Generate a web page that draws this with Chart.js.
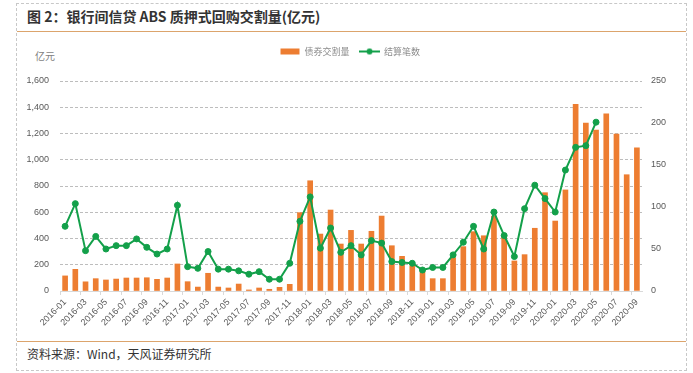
<!DOCTYPE html>
<html>
<head>
<meta charset="utf-8">
<script src="https://cdn.jsdelivr.net/npm/chart.js@4.4.1/dist/chart.umd.min.js"></script>
<style>
  body { margin: 0; width: 693px; height: 373px; position: relative; background: #fff; overflow: hidden;
         font-family: "Noto Sans CJK SC", "Noto Sans", sans-serif; }
  .frame { position: absolute; left: 16px; top: 3px; width: 671px; height: 368px; border: 1px dashed #c8c8c8; box-sizing: border-box; }
  .title { position: absolute; left: 27px; top: 6px; font-size: 14px; font-weight: bold; color: #333; white-space: nowrap; }
  .rule { position: absolute; left: 17px; width: 669px; height: 1px; background: #dca46c; }
  .unit { position: absolute; left: 35px; top: 48px; font-size: 10px; color: #7f7f7f; }
  .source { position: absolute; left: 27px; top: 345px; font-size: 12px; color: #333; white-space: nowrap; }
  #chart { position: absolute; left: 20px; top: 37px; }
</style>
</head>
<body>
<div class="frame"></div>
<div class="title">图 2：银行间信贷 ABS 质押式回购交割量(亿元)</div>
<div class="rule" style="top:31px"></div>
<div class="unit">亿元</div>
<canvas id="chart" width="660" height="298"></canvas>
<div class="rule" style="top:341px"></div>
<div class="source">资料来源：Wind，天风证券研究所</div>
<script>
const months = [
  '2016-01','2016-02','2016-03','2016-04','2016-05','2016-06','2016-07','2016-08','2016-09','2016-10','2016-11','2016-12',
  '2017-01','2017-02','2017-03','2017-04','2017-05','2017-06','2017-07','2017-08','2017-09','2017-10','2017-11','2017-12',
  '2018-01','2018-02','2018-03','2018-04','2018-05','2018-06','2018-07','2018-08','2018-09','2018-10','2018-11','2018-12',
  '2019-01','2019-02','2019-03','2019-04','2019-05','2019-06','2019-07','2019-08','2019-09','2019-10','2019-11','2019-12',
  '2020-01','2020-02','2020-03','2020-04','2020-05','2020-06','2020-07','2020-08','2020-09'
];

// 债券交割量 (亿元), left axis
const volume = [
  115, 165, 70, 94, 84, 91, 99, 99, 101, 89, 99, 206,
  71, 30, 135, 30, 23, 53, 8, 23, 13, 28, 51, 597,
  840, 434, 617, 358, 462, 358, 455, 571, 345, 264, 190, 150,
  94, 94, 254, 338, 452, 421, 571, 434, 229, 277, 478, 749,
  533, 770, 1423, 1280, 1227, 1349, 1196, 886, 1090
];

// 结算笔数, right axis
const deals = [
  77, 104, 48, 65, 50, 54, 54, 62, 52, 44, 50, 102,
  29, 27, 47, 26, 26, 24, 20, 23, 14, 14, 33, 83,
  112, 51, 75, 46, 54, 43, 60, 57, 35, 34, 33, 25,
  28, 28, 43, 58, 77, 50, 94, 66, 41, 98, 126, 110,
  94, 144, 171, 173, 201, null, null, null, null
];

const leftTicks = [0, 1600, 200];
const rightTicks = [0, 250, 50];

const orange = '#ED7D31';
const green = '#13A04A';

function legendIcon(kind) {
  const c = document.createElement('canvas');
  c.width = 21; c.height = 8;
  const g = c.getContext('2d');
  if (kind === 'bar') {
    g.fillStyle = orange;
    g.fillRect(1, 1, 19, 6);
  } else {
    g.strokeStyle = green; g.lineWidth = 2;
    g.beginPath(); g.moveTo(0, 4); g.lineTo(21, 4); g.stroke();
    g.fillStyle = green;
    g.beginPath(); g.arc(10.5, 4, 3, 0, Math.PI * 2); g.fill();
  }
  return c;
}

// extra gap under the legend
const legendGap = {
  id: 'legendGap',
  beforeUpdate(chart) {
    const lg = chart.legend;
    if (lg && !lg._gapped) {
      const fit = lg.fit;
      lg.fit = function () { fit.call(this); this.height += 15; };
      lg._gapped = true;
    }
  }
};

new Chart(document.getElementById('chart'), {
  data: {
    labels: months,
    datasets: [
      {
        type: 'bar', label: '债券交割量', data: volume, yAxisID: 'y',
        backgroundColor: orange, barThickness: 5, order: 2
      },
      {
        type: 'line', label: '结算笔数', data: deals, yAxisID: 'y1',
        borderColor: green, backgroundColor: green, borderWidth: 2,
        pointRadius: 3, pointBorderWidth: 1, tension: 0, spanGaps: false, order: 1
      }
    ]
  },
  options: {
    responsive: false,
    animation: false,
    devicePixelRatio: 1,
    layout: { padding: 0 },
    plugins: {
      tooltip: { enabled: false },
      legend: {
        position: 'top',
        labels: {
          usePointStyle: true,
          pointStyleWidth: 20,
          padding: 10,
          color: '#8c8c8c',
          font: { size: 9, family: '"Noto Sans CJK SC", sans-serif' },
          generateLabels: () => [
            { text: '债券交割量', pointStyle: legendIcon('bar'), fontColor: '#8c8c8c', datasetIndex: 0, lineWidth: 0, strokeStyle: 'transparent', fillStyle: orange },
            { text: '结算笔数', pointStyle: legendIcon('line'), fontColor: '#8c8c8c', datasetIndex: 1, lineWidth: 0, strokeStyle: 'transparent', fillStyle: green }
          ]
        }
      }
    },
    scales: {
      x: {
        offset: true,
        afterFit: s => { s.height = 44; },
        grid: {
          offset: true, drawOnChartArea: false, drawTicks: true, tickLength: 4,
          color: ctx => (ctx.index % 2 === 0 ? '#d9d9d9' : 'rgba(0,0,0,0)')
        },
        border: { display: true, color: '#d9d9d9' },
        ticks: {
          autoSkip: false, minRotation: 45, maxRotation: 45, padding: 2,
          color: '#595959', font: { size: 9, family: '"Liberation Sans", sans-serif' },
          callback: (v, i) => (i % 2 === 0 ? months[i] : '')
        }
      },
      y: {
        position: 'left',
        min: leftTicks[0], max: leftTicks[1],
        afterFit: s => { s.width = 40; },
        grid: { color: '#bdbdbd', drawTicks: false },
        border: { display: false, dash: [3, 2] },
        ticks: {
          stepSize: leftTicks[2], padding: 11,
          color: '#595959', font: { size: 9, family: '"Liberation Sans", sans-serif' }
        }
      },
      y1: {
        position: 'right',
        min: rightTicks[0], max: rightTicks[1],
        afterFit: s => { s.width = 38; },
        grid: { drawOnChartArea: false, drawTicks: false },
        border: { display: false },
        ticks: {
          stepSize: rightTicks[2], padding: 9,
          color: '#595959', font: { size: 9, family: '"Liberation Sans", sans-serif' }
        }
      }
    }
  },
  plugins: [legendGap]
});
</script>
</body>
</html>
